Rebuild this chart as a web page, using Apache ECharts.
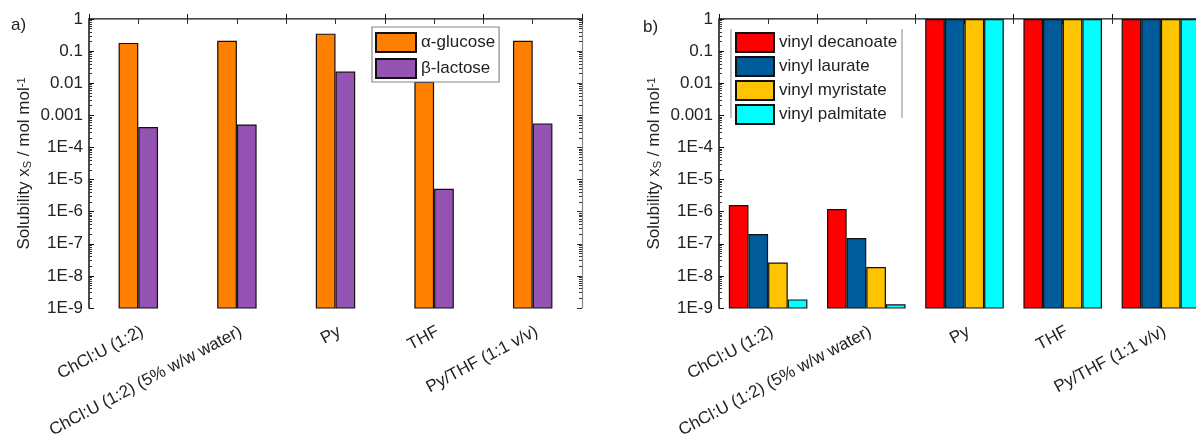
<!DOCTYPE html>
<html>
<head>
<meta charset="utf-8">
<script src="https://cdn.jsdelivr.net/npm/echarts@6/dist/echarts.min.js"></script>
<style>html,body{margin:0;padding:0;background:#fff;}#c{width:1196px;height:443px;}</style>
</head>
<body>
<div id="c"></div>
<script>
const categories = ['ChCl:U (1:2)', 'ChCl:U (1:2) (5% w/w water)', 'Py', 'THF', 'Py/THF (1:1 v/v)'];
const alphaGlucose = [0.18, 0.21, 0.35, 0.011, 0.21];
const betaLactose = [4.3e-4, 5.2e-4, 0.023, 5.2e-6, 5.6e-4];
const vinylDecanoate = [1.6e-6, 1.2e-6, 1, 1, 1];
const vinylLaurate = [2.0e-7, 1.5e-7, 1, 1, 1];
const vinylMyristate = [2.6e-8, 1.9e-8, 1, 1, 1];
const vinylPalmitate = [1.85e-9, 1.3e-9, 1, 1, 1];
const yMin = 1e-9, yMax = 1;
const yTickLabels = {'0':'1','-1':'0.1','-2':'0.01','-3':'0.001','-4':'1E-4','-5':'1E-5','-6':'1E-6','-7':'1E-7','-8':'1E-8','-9':'1E-9'};

const FONT = 'Liberation Sans, Arial, sans-serif';
// tiny invisible stack base so the bars rise from the bottom of the log axis
const baseLine = categories.map(() => 1e-14);
const minorVals = [];
for (let e = -9; e < 0; e++) for (let k = 2; k <= 9; k++) minorVals.push(e + Math.log10(k));

const chart = echarts.init(document.getElementById('c'));

const grids = [
  {left: 89, top: 19, width: 493, height: 289, outerBoundsMode: 'none'},
  {left: 719, top: 19, width: 491, height: 289, outerBoundsMode: 'none'}
];

const xAxes = [], yAxes = [];
grids.forEach((g, gi) => {
  xAxes.push({
    type: 'category', gridIndex: gi, data: categories, position: 'bottom',
    axisLine: {lineStyle: {color: '#111', width: 1.5}},
    axisTick: {show: true, inside: true, length: 5, alignWithLabel: false, lineStyle: {color: '#111'}},
    axisLabel: {rotate: 28, fontSize: 17, color: '#222', fontFamily: FONT, margin: 15, interval: 0,
      align: 'right', verticalAlign: 'top'}
  });
  xAxes.push({
    type: 'value', gridIndex: gi, position: 'top', min: 0, max: 10, interval: 1,
    axisLine: {show: true, lineStyle: {color: '#888', width: 1.2}},
    axisTick: {show: true, inside: true, length: 5, lineStyle: {color: '#333'}},
    axisLabel: {show: false}, splitLine: {show: false}
  });
  yAxes.push({
    type: 'log', logBase: 10, gridIndex: gi, min: yMin, max: yMax, interval: 1, position: 'left',
    name: 'Solubility x{sub|S} / mol mol{sup|-1}', nameLocation: 'middle', nameGap: 56,
    nameTextStyle: {fontSize: 17, color: '#222', fontFamily: FONT,
      rich: {sub: {fontSize: 11, verticalAlign: 'bottom', fontFamily: FONT, color: '#222'},
             sup: {fontSize: 11, verticalAlign: 'top', fontFamily: FONT, color: '#222'}}},
    axisLine: {show: true, lineStyle: {color: '#111', width: 1.5}},
    axisTick: {show: true, inside: true, length: 5, lineStyle: {color: '#111'}},
    axisLabel: {fontSize: 17, color: '#222', fontFamily: FONT, margin: 6,
      formatter: v => yTickLabels[String(Math.round(Math.log10(v)))]},
    splitLine: {show: false}
  });
  yAxes.push({
    type: 'value', gridIndex: gi, min: -9, max: 0, position: 'left',
    axisLine: {show: false}, axisLabel: {show: false}, splitLine: {show: false},
    axisTick: {show: true, inside: true, length: 3, customValues: minorVals, lineStyle: {color: '#333'}}
  });
  yAxes.push({
    type: 'log', logBase: 10, gridIndex: gi, min: yMin, max: yMax, interval: 1, position: 'right',
    axisLine: {show: true, lineStyle: {color: '#888', width: 1.2}},
    axisTick: {show: true, inside: true, length: 5, lineStyle: {color: '#333'}},
    axisLabel: {show: false}, splitLine: {show: false}
  });
  yAxes.push({
    type: 'value', gridIndex: gi, min: -9, max: 0, position: 'right',
    axisLine: {show: false}, axisLabel: {show: false}, splitLine: {show: false},
    axisTick: {show: true, inside: true, length: 3, customValues: minorVals, lineStyle: {color: '#333'}}
  });
});

const series = [];
function addBar(gi, name, data, color, gap) {
  const stack = 's' + gi + name;
  series.push({
    type: 'bar', name: '_base' + name, xAxisIndex: gi * 2, yAxisIndex: gi * 4, stack: stack,
    data: baseLine, itemStyle: {color: 'rgba(0,0,0,0)', borderWidth: 0},
    barGap: '0%', barCategoryGap: gap, silent: true, clip: true
  });
  series.push({
    type: 'bar', name: name, xAxisIndex: gi * 2, yAxisIndex: gi * 4, stack: stack,
    data: data, itemStyle: {color: color, borderColor: '#111', borderWidth: 1.2},
    barGap: '0%', barCategoryGap: gap, clip: true
  });
}
addBar(0, 'α-glucose', alphaGlucose, '#FF8000', '60%');
addBar(0, 'β-lactose', betaLactose, '#9452B3', '60%');
addBar(1, 'vinyl decanoate', vinylDecanoate, '#FF0000', '20%');
addBar(1, 'vinyl laurate', vinylLaurate, '#005B9A', '20%');
addBar(1, 'vinyl myristate', vinylMyristate, '#FFC400', '20%');
addBar(1, 'vinyl palmitate', vinylPalmitate, '#00FFFF', '20%');

chart.setOption({
  animation: false,
  backgroundColor: '#fff',
  grid: grids,
  xAxis: xAxes,
  yAxis: yAxes,
  legend: [
    {data: ['α-glucose', 'β-lactose'], orient: 'vertical', left: 372, top: 27, icon: 'rect',
     itemWidth: 40, itemHeight: 19, itemGap: 5, padding: [5, 4, 3, 3],
     borderColor: '#888', borderWidth: 1.2, selectedMode: false,
     textStyle: {fontSize: 17, color: '#222', fontFamily: FONT}},
    {data: ['vinyl decanoate', 'vinyl laurate', 'vinyl myristate', 'vinyl palmitate'], icon: 'rect',
     orient: 'vertical', left: 732, top: 28, itemWidth: 38, itemHeight: 19, itemGap: 3,
     padding: [4, 4, 4, 3], selectedMode: false,
     textStyle: {fontSize: 17, color: '#222', fontFamily: FONT}}
  ],
  graphic: [
    {type: 'text', left: 11, top: 17, style: {text: 'a)', fontSize: 17, fill: '#222', fontFamily: FONT}},
    {type: 'text', left: 643, top: 19, style: {text: 'b)', fontSize: 17, fill: '#222', fontFamily: FONT}},
    {type: 'line', shape: {x1: 731, y1: 29, x2: 731, y2: 118}, style: {stroke: '#999', lineWidth: 1.2}},
    {type: 'line', shape: {x1: 902, y1: 29, x2: 902, y2: 118}, style: {stroke: '#999', lineWidth: 1.2}}
  ],
  series: series
});
</script>
</body>
</html>
